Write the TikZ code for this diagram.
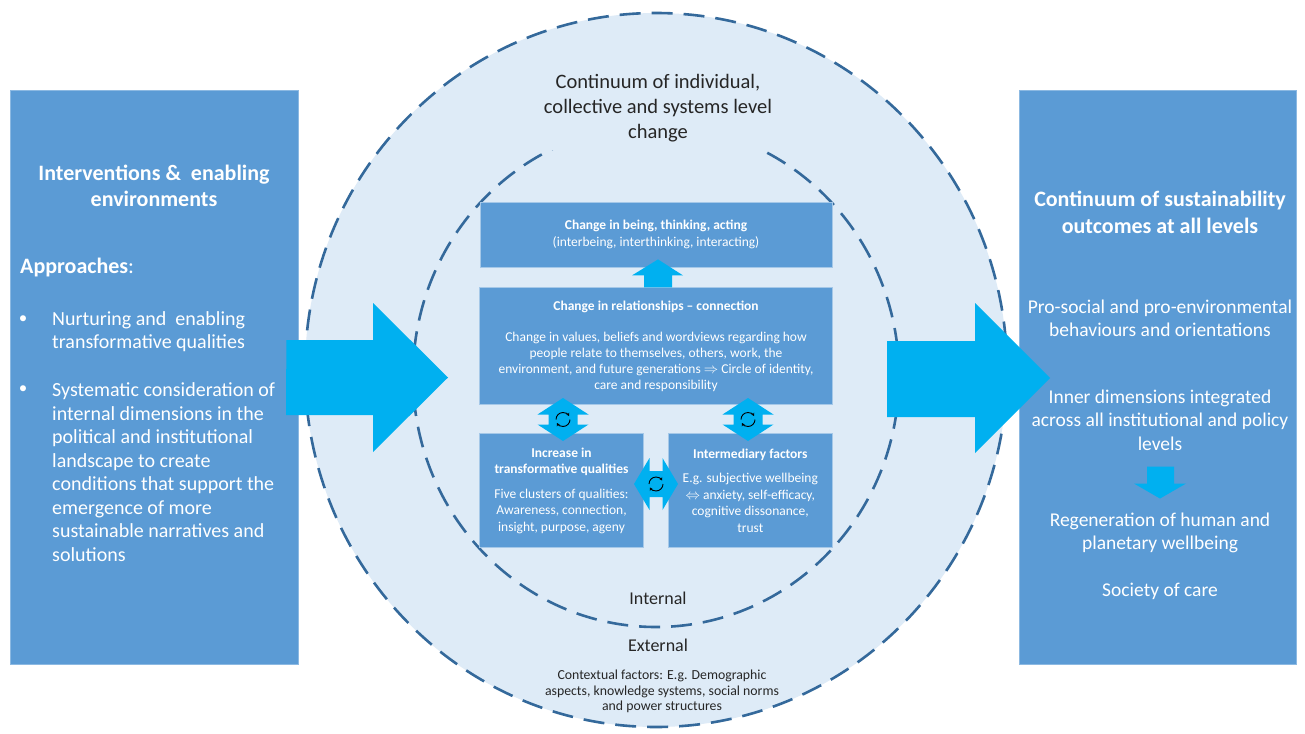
\documentclass[tikz,border=0pt]{standalone}
\usepackage{fontspec}
\setmainfont{Carlito}
\usetikzlibrary{positioning,arrows.meta}
\definecolor{panelblue}{RGB}{91,155,213}
\definecolor{paleblue}{RGB}{222,235,247}
\definecolor{dashblue}{RGB}{52,105,155}
\definecolor{arrowcyan}{RGB}{0,176,240}
\definecolor{darktext}{RGB}{38,38,38}
\tikzset{panel/.style={fill=panelblue,draw=panelblue!70!white,line width=0.8pt}}
\tikzset{box/.style={fill=panelblue,draw=panelblue!55!white,line width=0.8pt,text=white,align=center,inner sep=0pt}}
\tikzset{paneltext/.style={text=white,align=center,inner sep=0pt}}
\tikzset{ring/.style={draw=dashblue,line width=2.6pt,dash pattern=on 21pt off 11pt}}
\tikzset{blockarrow/.style={fill=arrowcyan}}
\tikzset{cycle icon/.style={line width=0.9pt,-{Stealth[length=3pt,width=3.5pt]}}}
\newcommand{\dblvarrow}[1]{\fill[blockarrow] (#1) ++(0,-21.5) -- ++(25.5,16.5) -- ++(-11,0) -- ++(0,10) -- ++(11,0) -- ++(-25.5,16.5) -- ++(-25.5,-16.5) -- ++(11,0) -- ++(0,-10) -- ++(-11,0) -- cycle;}
\newcommand{\dblharrow}[1]{\fill[blockarrow] (#1) ++(-22,0) -- ++(15.5,-26) -- ++(0,13) -- ++(13,0) -- ++(0,-13) -- ++(15.5,26) -- ++(-15.5,26) -- ++(0,-13) -- ++(-13,0) -- ++(0,13) -- cycle;}
\newcommand{\cycleicon}[1]{\draw[cycle icon] (#1) ++(7,0) arc[start angle=0,end angle=150,radius=7]; \draw[cycle icon] (#1) ++(-7,0) arc[start angle=180,end angle=330,radius=7];}

\begin{document}
\begin{tikzpicture}[x=1pt,y=-1pt,node distance=20pt]
\path[use as bounding box,fill=white] (0,0) rectangle (1305,733);

%levels of change
\draw[ring,fill=paleblue] (656,370) ellipse [x radius=351,y radius=357];
\draw[ring] (656,376) ellipse [x radius=243,y radius=251];

\node[fill=paleblue,minimum width=236pt,minimum height=84pt,align=center,text=darktext,inner sep=0pt,font=\fontsize{20.5}{25}\selectfont] (levels) at (658,108) {Continuum of individual,\\collective and systems level\\change};

%side panels
\node[panel,minimum width=288pt,minimum height=574pt] (left) at (154,377) {};
\node[panel,minimum width=277pt,minimum height=574pt] (right) at (1157.5,377) {};

\node[paneltext,font=\fontsize{22}{26}\selectfont\bfseries] (lefttitle) at (154,186) {Interventions \&\ \ enabling\\environments};
\node[paneltext,anchor=west,font=\fontsize{22}{24}\selectfont] (approaches) at (20,268) {\textbf{Approaches}:};
\node[paneltext,font=\fontsize{17}{23.5}\selectfont] (bulletA) at (23,320) {•};
\node[paneltext,anchor=west,align=left,font=\fontsize{20}{23.5}\selectfont] (itemA) at (52,331.5) {Nurturing and\ \ enabling\\transformative qualities};
\node[paneltext,font=\fontsize{17}{23.5}\selectfont] (bulletB) at (23,390) {•};
\node[paneltext,anchor=west,align=left,font=\fontsize{20}{23.5}\selectfont] (itemB) at (52,472) {Systematic consideration of\\internal dimensions in the\\political and institutional\\landscape to create\\conditions that support the\\emergence of more\\sustainable narratives and\\solutions};

\node[paneltext,font=\fontsize{22}{27}\selectfont\bfseries] (righttitle) at (1160,212.5) {Continuum of sustainability\\outcomes at all levels};
\node[paneltext,font=\fontsize{19.5}{23.5}\selectfont] (behaviours) at (1160,318.5) {Pro-social and pro-environmental\\behaviours and orientations};
\node[paneltext,font=\fontsize{19.5}{23.5}\selectfont] (inner) at (1160,420) {Inner dimensions integrated\\across all institutional and policy\\levels};
\node[paneltext,font=\fontsize{19.5}{23.5}\selectfont] (regeneration) at (1160,533) {Regeneration of human and\\planetary wellbeing};
\node[paneltext,font=\fontsize{19.5}{23.5}\selectfont] (care) at (1160,591) {Society of care};
\fill[blockarrow] (inner.south -| regeneration) ++(-13,16) -- ++(27,0) -- ++(0,17) -- ++(12,0) -- ++(-26,15) -- ++(-26,-15) -- ++(13,0) -- cycle;

%big arrows
\fill[blockarrow] (left.east |- 0,377.5) ++(-12,-37.5) -- (373,340) -- (373,303) -- (448,377.5) -- (373,452) -- (373,415) -- (286,415) -- cycle;
\fill[blockarrow] (887,341) -- (975,341) -- (975,303) -- (1050,378) -- (975,453) -- (975,417) -- (887,417) -- cycle;

%inner boxes
\node[box,minimum width=352pt,minimum height=65pt,font=\fontsize{13.5}{16.5}\selectfont] (being) at (656,234.5) {\textbf{Change in being, thinking, acting}\\(interbeing, interthinking, interacting)};

\node[box,minimum width=353pt,minimum height=117pt,font=\fontsize{13.5}{16}\selectfont] (relation) [below=20pt of being] {\textbf{Change in relationships -- connection}\\[15pt]Change in values, beliefs and wordviews regarding how\\people relate to themselves, others, work, the\\environment, and future generations $\Rightarrow$ Circle of identity,\\care and responsibility};

\node[box,minimum width=164pt,minimum height=114pt,font=\fontsize{13.5}{16.5}\selectfont,anchor=north west] (qualities) [below=28pt of relation.south west,anchor=north west] {\textbf{Increase in}\\\textbf{transformative qualities}\\[8pt]Five clusters of qualities:\\Awareness, connection,\\insight, purpose, ageny};

\node[box,minimum width=164pt,minimum height=114pt,font=\fontsize{13.5}{16.5}\selectfont] (intermediary) [right=24pt of qualities] {\textbf{Intermediary factors}\\[8pt]E.g. subjective wellbeing\\$\Leftrightarrow$ anxiety, self-efficacy,\\cognitive dissonance,\\trust};

%arrows between boxes
\fill[blockarrow] (being.south -| 658,0) ++(-14,20) -- ++(0,-12) -- ++(-12,0) -- ++(26,-16) -- ++(25,16) -- ++(-11,0) -- ++(0,12) -- cycle;
\coordinate (linkA) at (563,419.5);
\coordinate (linkB) at (748,419.5);
\coordinate (linkC) at (656,484);
\dblvarrow{linkA}
\dblvarrow{linkB}
\dblharrow{linkC}
\cycleicon{linkA}
\cycleicon{linkB}
\cycleicon{linkC}

%internal and external
\node[text=darktext,font=\fontsize{18}{20}\selectfont] (internal) at (658,598) {Internal};
\node[text=darktext,font=\fontsize{18}{20}\selectfont] (external) at (658,645) {External};
\node[text=darktext,align=center,inner sep=0pt,font=\fontsize{13.8}{15.5}\selectfont] (context) at (662,691.5) {Contextual factors: E.g. Demographic\\aspects, knowledge systems, social norms\\and power structures};

\end{tikzpicture}
\end{document}
